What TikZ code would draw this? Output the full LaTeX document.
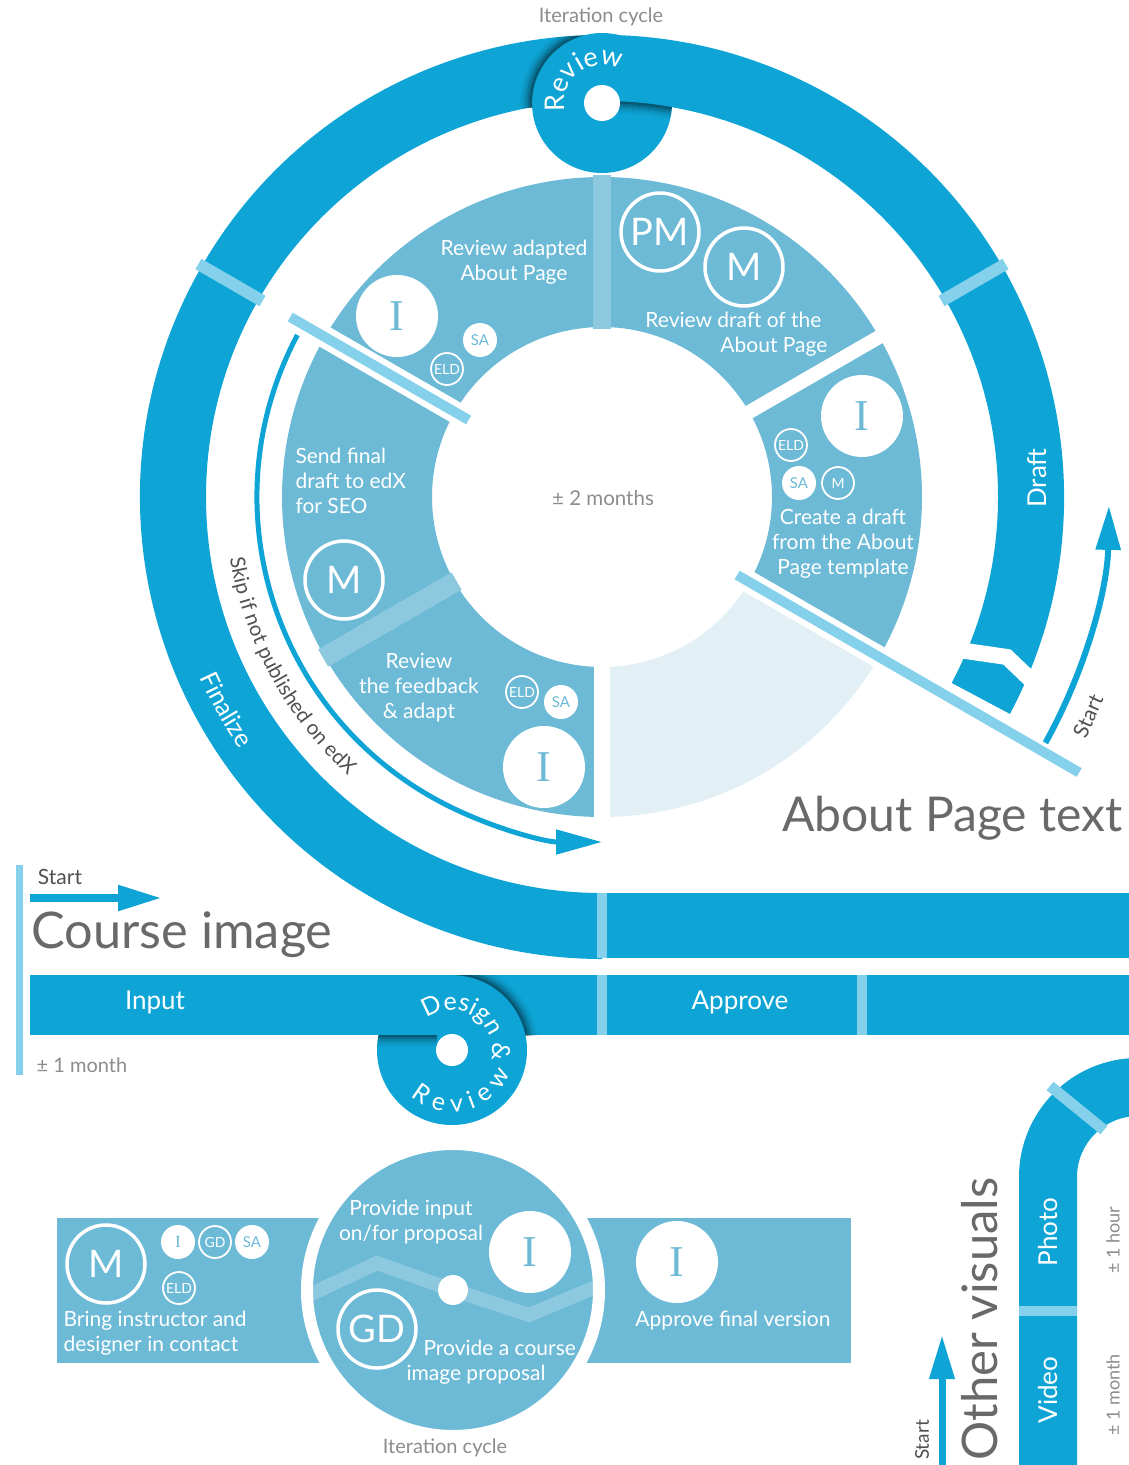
\documentclass[tikz,border=0pt]{standalone}
\usepackage{fontspec}
\setmainfont{Lato}
\newfontfamily\glyphfont{Liberation Serif}
\usetikzlibrary{arrows.meta,decorations.text}

\definecolor{ringblue}{RGB}{14,165,214}
\definecolor{stepblue}{RGB}{108,186,214}
\definecolor{sepblue}{RGB}{133,209,235}
\definecolor{stripeblue}{RGB}{140,201,223}
\definecolor{paleblue}{RGB}{226,240,246}
\definecolor{txtgray}{RGB}{105,105,105}
\definecolor{notegray}{RGB}{140,140,140}
\definecolor{txtdark}{RGB}{80,80,80}

% annular piece: colour, start, end, inner radius, outer radius
\newcommand{\ringpart}[5]{%
  \fill[#1] (#2:#5pt) arc[start angle=#2, end angle=#3, radius=#5pt]
    -- (#3:#4pt) arc[start angle=#3, end angle=#2, radius=#4pt] -- cycle;}
\newcommand{\fsz}[2]{\fontsize{#1}{#2}\selectfont}

\tikzset{
  bigfill/.style={circle, fill=white, text=stepblue, minimum size=82pt, inner sep=0pt, font=\glyphfont\fsz{44}{44}},
  bigring/.style={circle, draw=white, line width=3.5pt, text=white, minimum size=78pt, inner sep=0pt, font=\fsz{38}{38}},
  smallfill/.style={circle, fill=white, text=stepblue, minimum size=34pt, inner sep=0pt, font=\fsz{15}{15}},
  smallring/.style={circle, draw=white, line width=1.8pt, text=white, minimum size=32pt, inner sep=0pt, font=\fsz{14}{14}},
  steplabel/.style={text=white, align=center, font=\fsz{21}{25}},
  barlabel/.style={text=white, font=\fsz{26}{26}},
  headline/.style={text=txtgray, font=\fsz{48}{48}},
  note/.style={text=notegray, font=\fsz{20}{20}},
  startlabel/.style={text=txtdark, font=\fsz{21}{21}},
  shade/.style={black, line width=2.2pt},
}

\begin{document}
\begin{tikzpicture}[x=1pt,y=1pt]
\useasboundingbox (0,0) rectangle (1129,-1465);

% ---- About Page text ----
\begin{scope}[shift={(602,-497)}]
  \ringpart{ringblue}{-28}{270}{396}{462}
  \draw[sepblue, line width=12pt] (150:392pt) -- (150:466pt);
  \draw[sepblue, line width=12pt] (30:392pt) -- (30:466pt);
  % steps
  \ringpart{stepblue}{30}{90}{170}{320}
  \ringpart{stepblue}{-30}{30}{170}{320}
  \ringpart{stepblue}{90}{150}{170}{320}
  \ringpart{stepblue}{150}{210}{170}{320}
  \ringpart{stepblue}{210}{270}{170}{320}
  \ringpart{paleblue}{270}{330}{170}{320}
  \draw[stripeblue, line width=18pt] (90:168pt) -- (90:322pt);
  \draw[stripeblue, line width=20pt] (210:168pt) -- (210:322pt);
  \draw[white, line width=14pt] (30:160pt) -- (30:330pt);
  \draw[white, line width=16pt] (270:160pt) -- (270:330pt);
  \draw[white, line width=22pt] (150:160pt) -- (150:330pt);
  \draw[white, line width=22pt] (-30:160pt) -- (-30:330pt);
  \draw[sepblue, line width=10pt] (150:154pt) -- (150:360pt);
  \draw[sepblue, line width=10pt] (-30:156pt) -- (-30:551pt);
\end{scope}
\draw[white, line width=16pt] (952,-649) -- (1007,-657) -- (1031,-680) -- (1046,-694);

% review loop on top
\fill[ringblue] (602,-103) circle[radius=70pt];
\begin{scope}
  \clip (602,-497) circle[radius=462pt];
  \foreach \d/\o in {1/0.45,3/0.32,5/0.22,7/0.13,9/0.07,11/0.03}
    \draw[shade, opacity=\o] (602,-103) ++(95:{70pt+\d pt}) arc[start angle=95, end angle=184, radius={70pt+\d pt}];
\end{scope}
\begin{scope}
  \clip (602,-103) circle[radius=70pt];
  \clip (619,0) rectangle (690,-200);
  \foreach \d/\o in {1/0.45,3/0.32,5/0.22,7/0.13,9/0.07,11/0.03}
    \draw[shade, opacity=\o] (602,-497) circle[radius={396pt-\d pt}];
\end{scope}
\fill[white] (602,-103) circle[radius=18pt];
\path[decorate, decoration={text along path, text align=center,
    text={|\color{white}\fsz{27}{27}|Review}}]
  (602,-103) ++(205:38pt) arc[start angle=205, end angle=50, radius=38pt];

\draw[ringblue, line width=6pt, -{Triangle[length=44pt, width=24pt]}]
  (602,-497) ++(-29:507pt) arc[start angle=-29, end angle=-1, radius=507pt];
\draw[ringblue, line width=5pt, -{Triangle[length=46pt, width=24pt]}]
  (602,-497) ++(152:345pt) arc[start angle=152, end angle=270, radius=345pt];
\path[decorate, decoration={text along path, text align=center,
    text={|\color{txtdark}\fsz{20.5}{20.5}|Skip if not published on edX}}]
  (602,-497) ++(160:377pt) arc[start angle=160, end angle=257, radius=377pt];
\path[decorate, decoration={text along path, text align=center,
    text={|\color{white}\fsz{25}{25}|Finalize}}]
  (602,-497) ++(180:441pt) arc[start angle=180, end angle=239, radius=441pt];

\node[note] (cycleA) at (601,-17) {Iteration cycle};
\node[barlabel, rotate=90] (draft) at (1037,-478) {Draft};
\node[startlabel, rotate=66] (startA) at (1088,-716) {Start};
\node[note, font=\fsz{20.5}{20.5}] (months) at (603,-498) {± 2 months};
\node[headline, anchor=east] (titleA) at (1126,-818) {About Page text};

% step: review adapted
\node[steplabel] (adapted) at (514,-262) {Review adapted\\About Page};
\node[bigfill] (iA) at (397,-316) {I};
\node[smallfill] (saA) at (480,-340) {SA};
\node[smallring] (eldA) at (447,-369) {ELD};
% step: review draft
\node[bigring] (pm) at (660,-232) {PM};
\node[bigring] (mA) at (744,-267) {M};
\node[steplabel, align=right, anchor=east] (rdraft) at (831,-334) {Review draft of the\hspace*{6pt}\\About Page};
% step: create draft
\node[bigfill] (iB) at (862,-416) {I};
\node[smallring] (eldB) at (791,-445) {ELD};
\node[smallfill] (saB) at (799,-483) {SA};
\node[smallring] (mB) at (838,-483) {M};
\node[steplabel] (create) at (843,-544) {Create a draft\\from the About\\Page template};
% step: send final
\node[steplabel, align=left, anchor=west] (send) at (292,-481) {Send final\\draft to edX\\for SEO};
\node[bigring] (mC) at (344,-580) {M};
% step: feedback
\node[steplabel] (feedback) at (419,-688) {Review\\the feedback\\\& adapt};
\node[smallring] (eldC) at (522,-692) {ELD};
\node[smallfill] (saC) at (561,-702) {SA};
\node[bigfill] (iC) at (544,-767) {I};

% ---- Course image ----
\fill[sepblue] (16,-865) rectangle (23,-1075);
\node[startlabel] (startB) at (60,-877) {Start};
\draw[ringblue, line width=8pt, -{Triangle[length=44pt, width=24pt]}] (30,-898) -- (162,-898);
\node[headline, font=\fsz{50.5}{50.5}, anchor=west] (titleB) at (28,-935) {Course image};
\fill[ringblue] (602,-893) rectangle (1129,-958);
\fill[sepblue] (597,-893) rectangle (607,-958);
\fill[ringblue] (30,-975) rectangle (1129,-1035);
\fill[sepblue] (597,-975) rectangle (607,-1035);
\fill[sepblue] (857,-975) rectangle (867,-1035);
\node[barlabel] (input) at (155,-1002) {Input};
\node[barlabel] (approve) at (740,-1002) {Approve};
\node[note] (monthB) at (82,-1065) {± 1 month};

% design & review loop
\fill[ringblue] (452,-1050) circle[radius=75pt];
\begin{scope}
  \clip (30,-975) rectangle (1129,-1035);
  \foreach \d/\o in {1/0.45,3/0.32,5/0.22,7/0.13,9/0.07,11/0.03}
    \draw[shade, opacity=\o] (452,-1050) ++(-20:{75pt+\d pt}) arc[start angle=-20, end angle=88, radius={75pt+\d pt}];
\end{scope}
\begin{scope}
  \clip (452,-1050) circle[radius=75pt];
  \foreach \d/\o in {1/0.45,3/0.32,5/0.22,7/0.13,9/0.07,11/0.03}
    \draw[shade, opacity=\o] (370,{-1035-\d}) -- (437,{-1035-\d});
\end{scope}
\fill[white] (452,-1050) circle[radius=16pt];
\path[decorate, decoration={text along path, text align=center,
    text={|\color{white}\fsz{25}{25}|Design {\&}}}]
  (452,-1050) ++(162:40pt) arc[start angle=162, end angle=-48, radius=40pt];
\path[decorate, decoration={text along path, text align=fit to path,
    text={|\color{white}\fsz{25}{25}|Review}}]
  (452,-1050) ++(228:62pt) arc[start angle=228, end angle=338, radius=62pt];

% bottom steps
\fill[stepblue] (57,-1218) rectangle (851,-1363);
\fill[stepblue] (453,-1290) circle[radius=146pt];
\draw[stripeblue, line width=14pt] (309,-1295) -- (377,-1263) -- (453,-1290) -- (529,-1315) -- (598,-1286);
\draw[white, line width=12pt] (453,-1290) circle[radius=146pt];
\fill[white] (453,-1290) circle[radius=15pt];

\node[bigring] (mD) at (106,-1264) {M};
\node[smallfill, font=\glyphfont\fsz{17}{17}] (iD) at (178,-1242) {I};
\node[smallring] (gdA) at (215,-1242) {GD};
\node[smallfill] (saD) at (252,-1242) {SA};
\node[smallring] (eldD) at (179,-1288) {ELD};
\node[steplabel, align=left, anchor=west] (bring) at (60,-1333) {Bring instructor and\\designer in contact};

\node[steplabel] (provide) at (411,-1222) {Provide input\\on/for proposal};
\node[bigfill] (iE) at (530,-1252) {I};
\node[bigring] (gdB) at (377,-1329) {GD};
\node[steplabel, align=left, anchor=west] (proposal) at (420,-1362) {Provide a course\\\hspace*{-17pt}image proposal};
\node[note] (cycleB) at (445,-1448) {Iteration cycle};

\node[bigfill] (iF) at (677,-1262) {I};
\node[steplabel] (final) at (733,-1321) {Approve final version};

% ---- Other visuals ----
\fill[ringblue] (1019,-1465) -- (1019,-1177) arc[start angle=180, end angle=90, radius=119pt]
  -- (1138,-1116) arc[start angle=90, end angle=180, radius=61pt] -- (1077,-1465) -- cycle;
\draw[sepblue, line width=11pt] (1050,-1086) -- (1104,-1130);
\fill[sepblue] (1019,-1306) rectangle (1077,-1316);
\node[barlabel, rotate=90] (photo) at (1048,-1232) {Photo};
\node[barlabel, rotate=90] (video) at (1048,-1390) {Video};
\node[note, font=\fsz{18}{18}, rotate=90] (hour) at (1113,-1240) {± 1 hour};
\node[note, font=\fsz{18}{18}, rotate=90] (monthC) at (1113,-1395) {± 1 month};
\node[headline, font=\fsz{49}{49}, rotate=90, anchor=west] (titleC) at (980,-1464) {Other visuals};
\node[startlabel, font=\fsz{19}{19}, rotate=90] (startC) at (922,-1440) {Start};
\draw[ringblue, line width=7pt, -{Triangle[length=44pt, width=24pt]}] (942,-1465) -- (942,-1335);
\end{tikzpicture}
\end{document}
